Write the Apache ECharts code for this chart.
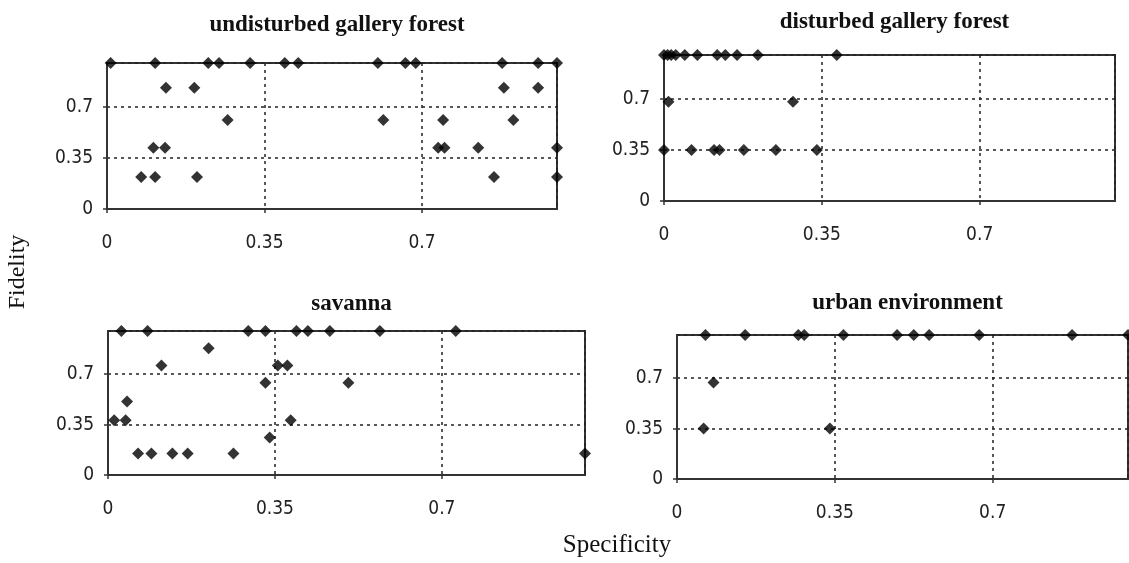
<!DOCTYPE html>
<html>
<head>
<meta charset="utf-8">
<script src="https://cdn.jsdelivr.net/npm/echarts@6/dist/echarts.min.js"></script>
<style>
    html, body { margin: 0; padding: 0; background: #fff; }
    #chart { width: 1129px; height: 563px; }
</style>
</head>
<body>
<div id="chart"></div>
<script>
var panelTitles = ['undisturbed gallery forest', 'disturbed gallery forest', 'savanna', 'urban environment'];
var tickValues = [0, 0.35, 0.7];

// specificity (x) / fidelity (y) for each habitat
var undisturbedSpec = [0.008, 0.107, 0.225, 0.249, 0.318, 0.395, 0.425, 0.602, 0.663, 0.686, 0.878, 0.958, 1.0,
    0.131, 0.194, 0.882, 0.958,
    0.268, 0.614, 0.747, 0.903,
    0.103, 0.129, 0.736, 0.75, 0.825, 1.0,
    0.076, 0.107, 0.2, 0.86, 1.0];
var undisturbedFid = [1, 1, 1, 1, 1, 1, 1, 1, 1, 1, 1, 1, 1,
    0.83, 0.83, 0.83, 0.83,
    0.61, 0.61, 0.61, 0.61,
    0.42, 0.42, 0.42, 0.42, 0.42, 0.42,
    0.22, 0.22, 0.22, 0.22, 0.22];

var disturbedSpec = [0.0, 0.008, 0.016, 0.026, 0.046, 0.074, 0.118, 0.136, 0.162, 0.208, 0.383,
    0.01, 0.286,
    0.0, 0.061, 0.111, 0.123, 0.177, 0.248, 0.339];
var disturbedFid = [1, 1, 1, 1, 1, 1, 1, 1, 1, 1, 1,
    0.68, 0.68,
    0.35, 0.35, 0.35, 0.35, 0.35, 0.35, 0.35];

var savannaSpec = [0.028, 0.083, 0.294, 0.33, 0.395, 0.419, 0.465, 0.57, 0.729,
    0.211,
    0.112, 0.356, 0.376,
    0.33, 0.504,
    0.04,
    0.013, 0.037, 0.383,
    0.339,
    0.063, 0.091, 0.135, 0.167, 0.263, 1.0];
var savannaFid = [1, 1, 1, 1, 1, 1, 1, 1, 1,
    0.88,
    0.76, 0.76, 0.76,
    0.64, 0.64,
    0.51,
    0.38, 0.38, 0.38,
    0.26,
    0.15, 0.15, 0.15, 0.15, 0.15, 0.15];

var urbanSpec = [0.063, 0.151, 0.269, 0.282, 0.369, 0.488, 0.525, 0.559, 0.67, 0.876, 1.0,
    0.081,
    0.059, 0.339];
var urbanFid = [1, 1, 1, 1, 1, 1, 1, 1, 1, 1, 1,
    0.67,
    0.35, 0.35];

var allSpec = [undisturbedSpec, disturbedSpec, savannaSpec, urbanSpec];
var allFid = [undisturbedFid, disturbedFid, savannaFid, urbanFid];

// plot boxes in pixels: left, top, width, height
var boxes = [
    [107, 63, 450, 146],
    [664, 55, 451, 146],
    [108, 331, 477, 144],
    [677, 335, 451, 144]
];
var titleTops = [9, 6, 288, 287];

var labelFont = '"Liberation Sans Narrow", "Arial Narrow", "DejaVu Sans Condensed", sans-serif';
var serifFont = '"Liberation Serif", "Times New Roman", serif';

function zip(xs, ys) {
    var out = [];
    for (var i = 0; i < xs.length; i++) {
        out.push([xs[i], ys[i]]);
    }
    return out;
}

function makeAxis(i, isX) {
    return {
        type: 'value',
        gridIndex: i,
        min: tickValues[0],
        max: 1,
        interval: tickValues[1] - tickValues[0],
        axisLine: { show: true, onZero: false, lineStyle: { color: '#333', width: 2 } },
        axisTick: { show: true, length: 4, lineStyle: { color: '#333', width: 1.5 } },
        axisLabel: {
            show: true,
            showMaxLabel: false,
            margin: isX ? 25 : 14,
            color: '#222',
            fontFamily: labelFont,
            fontSize: 19,
            formatter: function (v) {
                var r = Math.round(v * 100) / 100;
                return tickValues.indexOf(r) >= 0 ? String(r) : '';
            }
        },
        splitLine: { show: true, lineStyle: { color: '#222', width: 1.5, type: [3, 4] } }
    };
}

var grids = [], xAxes = [], yAxes = [], series = [], titles = [];
for (var i = 0; i < 4; i++) {
    var b = boxes[i];
    grids.push({
        left: b[0], top: b[1], width: b[2], height: b[3],
        show: true, borderColor: '#333', borderWidth: 2, containLabel: false
    });
    xAxes.push(makeAxis(i, true));
    yAxes.push(makeAxis(i, false));
    series.push({
        type: 'scatter',
        name: panelTitles[i],
        xAxisIndex: i,
        yAxisIndex: i,
        symbol: 'diamond',
        symbolSize: 12,
        itemStyle: { color: '#000' },
        clip: false,
        data: zip(allSpec[i], allFid[i])
    });
    titles.push({
        text: panelTitles[i],
        left: b[0] + b[2] / 2,
        top: titleTops[i],
        textAlign: 'center',
        textStyle: { fontFamily: serifFont, fontWeight: 'bold', fontSize: 23, color: '#111' }
    });
}

var chart = echarts.init(document.getElementById('chart'), null, { renderer: 'canvas' });
chart.setOption({
    animation: false,
    backgroundColor: '#fff',
    title: titles,
    grid: grids,
    xAxis: xAxes,
    yAxis: yAxes,
    series: series,
    graphic: [{
        type: 'text',
        x: 18, y: 272,
        rotation: Math.PI / 2,
        style: { text: 'Fidelity', font: '24px ' + serifFont, fill: '#111', textAlign: 'center', textVerticalAlign: 'middle' }
    }, {
        type: 'text',
        x: 617, y: 545,
        style: { text: 'Specificity', font: '25px ' + serifFont, fill: '#111', textAlign: 'center', textVerticalAlign: 'middle' }
    }]
});
</script>
</body>
</html>
